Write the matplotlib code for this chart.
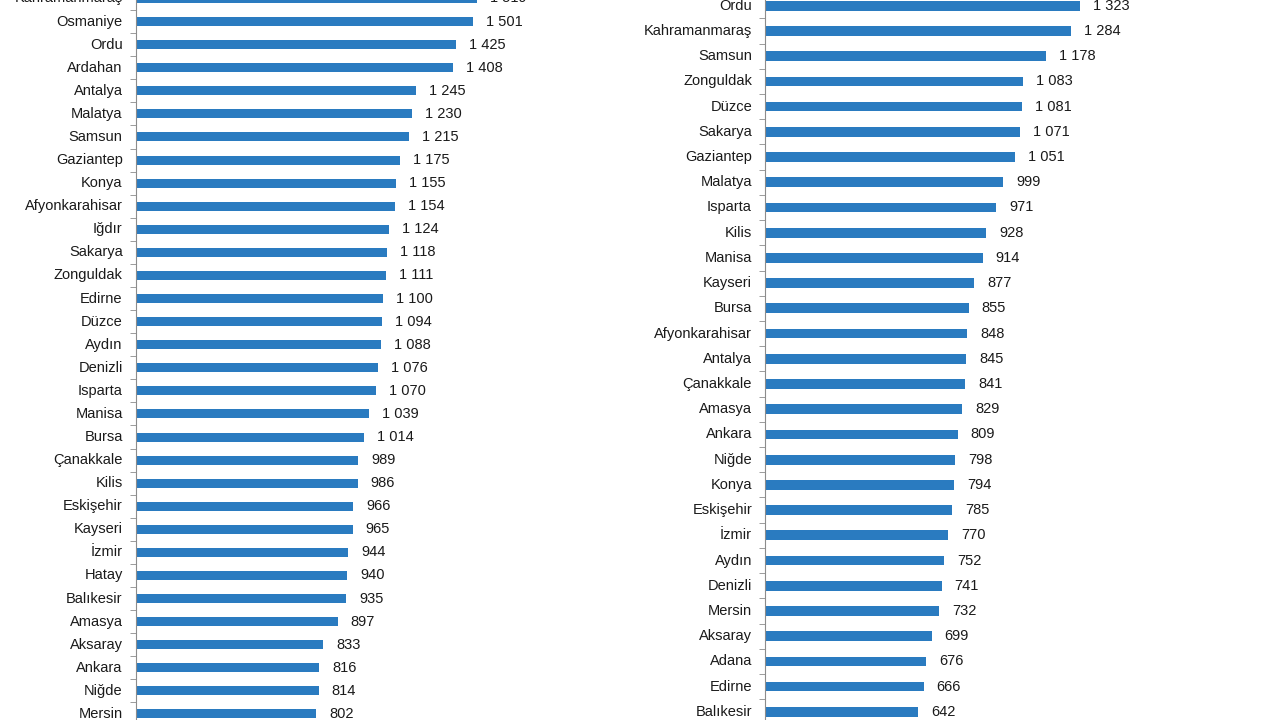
import matplotlib
matplotlib.use("Agg")
import matplotlib.pyplot as plt

plt.rcParams['font.family'] = ['Liberation Sans', 'DejaVu Sans']

# Sol panel
iller_sol = ['Kahramanmaraş', 'Osmaniye', 'Ordu', 'Ardahan', 'Antalya', 'Malatya',
             'Samsun', 'Gaziantep', 'Konya', 'Afyonkarahisar', 'Iğdır', 'Sakarya',
             'Zonguldak', 'Edirne', 'Düzce', 'Aydın', 'Denizli', 'Isparta', 'Manisa',
             'Bursa', 'Çanakkale', 'Kilis', 'Eskişehir', 'Kayseri', 'İzmir', 'Hatay',
             'Balıkesir', 'Amasya', 'Aksaray', 'Ankara', 'Niğde', 'Mersin']
deger_sol = [1519, 1501, 1425, 1408, 1245, 1230, 1215, 1175, 1155, 1154, 1124, 1118,
             1111, 1100, 1094, 1088, 1076, 1070, 1039, 1014, 989, 986, 966, 965, 944,
             940, 935, 897, 833, 816, 814, 802]

# Sağ panel
iller_sag = ['Ordu', 'Kahramanmaraş', 'Samsun', 'Zonguldak', 'Düzce', 'Sakarya',
             'Gaziantep', 'Malatya', 'Isparta', 'Kilis', 'Manisa', 'Kayseri', 'Bursa',
             'Afyonkarahisar', 'Antalya', 'Çanakkale', 'Amasya', 'Ankara', 'Niğde',
             'Konya', 'Eskişehir', 'İzmir', 'Aydın', 'Denizli', 'Mersin', 'Aksaray',
             'Adana', 'Edirne', 'Balıkesir']
deger_sag = [1323, 1284, 1178, 1083, 1081, 1071, 1051, 999, 971, 928, 914, 877, 855,
             848, 845, 841, 829, 809, 798, 794, 785, 770, 752, 741, 732, 699, 676, 666,
             642]

mavi = '#2A7BC0'
W, H = 1280, 720

fig = plt.figure(figsize=(12.8, 7.2), dpi=100)


def panel(x0, genislik, olcek, ilk_y, aralik, iller, degerler, kalinlik):
    ax = fig.add_axes([x0 / W, 0, genislik / W, 1])
    n = len(iller)
    pos = list(range(n))
    ax.barh(pos, degerler, height=kalinlik, color=mavi)
    ax.set_yticks([])
    ax.set_yticks([p + 0.5 for p in pos[:-1]] + [-0.5], minor=True)
    ax.tick_params(axis='y', which='minor', length=4, color='#8c8c8c')
    ax.set_xticks([])
    # sınırlar tick'lerden sonra (set_yticks sınırları genişletiyor)
    ax.set_xlim(0, genislik / olcek)
    ust = (0 - ilk_y) / aralik
    alt = (H - ilk_y) / aralik
    ax.set_ylim(alt, ust)
    for s in ['top', 'right', 'bottom']:
        ax.spines[s].set_visible(False)
    ax.spines['left'].set_color('#8c8c8c')
    ax.set_facecolor('none')
    for y, il in zip(pos, iller):  # il adları (kenarda kesilenler de görünsün)
        ax.annotate(il, (0, y), xycoords=('axes fraction', 'data'), xytext=(-13, 0),
                    textcoords='offset pixels', va='center', ha='right',
                    fontsize=10.5, color='#1a1a1a', annotation_clip=False)
    for y, v in zip(pos, degerler):  # değer etiketleri
        ax.annotate(f'{v:,}'.replace(',', ' '), (v, y), xytext=(13, 0),
                    textcoords='offset pixels', va='center', ha='left',
                    fontsize=10.5, color='#1a1a1a', annotation_clip=False)
    return ax


panel(135.7, 400, 0.2250, -1.5, 23.08, iller_sol, deger_sol, 0.39)
panel(765, 400, 0.2382, 5.7, 25.22, iller_sag, deger_sag, 0.385)

fig.savefig('out.png', dpi=100)
